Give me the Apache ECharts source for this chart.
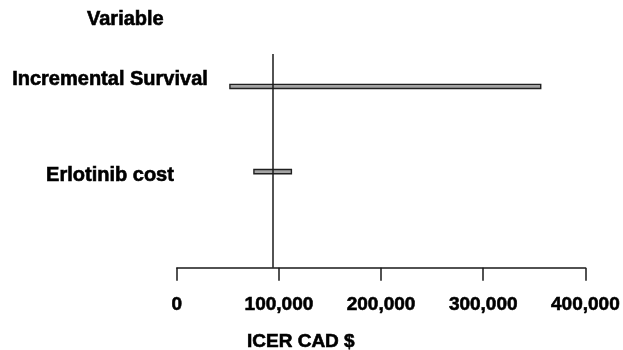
<!DOCTYPE html>
<html><head><meta charset="utf-8">
<script src="https://cdn.jsdelivr.net/npm/echarts@6/dist/echarts.min.js"></script>
<style>html,body{margin:0;padding:0;background:#fff}#c{width:623px;height:350px}</style>
</head><body><div id="c"></div>
<script>
const categories = ['Incremental Survival', 'Erlotinib cost'];
const lowValues = [52000, 75500];
const highValues = [356300, 112200];
const baseValue = 94000;
const tickValues = [0, 100000, 200000, 300000, 400000];
const tickLabels = ['0', '100,000', '200,000', '300,000', '400,000'];

const FONT = '"Liberation Sans", Arial, Helvetica, sans-serif';
const HEAVY = {fontFamily: FONT, fontWeight: 'bold', color: '#000', textBorderColor: '#000', textBorderWidth: 0.6};
const chart = echarts.init(document.getElementById('c'), null, {renderer: 'canvas'});

const data = categories.map((c, i) => [lowValues[i], highValues[i], i]);

chart.setOption({
  animation: false,
  backgroundColor: '#fff',
  title: [
    {text: 'Variable', left: 87, top: 9, padding: 0,
     textStyle: Object.assign({fontSize: 20}, HEAVY)},
    {text: 'ICER CAD $', left: 247, top: 332, padding: 0,
     textStyle: Object.assign({fontSize: 19}, HEAVY)}
  ],
  grid: [
    {left: 176.8, right: 35.5, top: 54, bottom: 82.3, containLabel: false},
    {left: 176.8, right: 35.5, top: 31, height: 192, containLabel: false}
  ],
  xAxis: [{
    type: 'value', gridIndex: 0, min: tickValues[0], max: tickValues[tickValues.length - 1],
    interval: tickValues[1] - tickValues[0],
    splitLine: {show: false},
    axisLine: {show: true, onZero: false, lineStyle: {color: '#1a1a1a', width: 1.5}},
    axisTick: {show: true, length: 13, lineStyle: {color: '#1a1a1a', width: 1.5}},
    axisLabel: Object.assign({
      margin: 28, fontSize: 19,
      formatter: v => { const k = tickValues.indexOf(v); return k >= 0 ? tickLabels[k] : ''; }
    }, HEAVY)
  }, {
    type: 'value', gridIndex: 1, min: 0, max: 1, show: false
  }],
  yAxis: [{
    type: 'value', gridIndex: 0, min: -0.381, max: 2.127, inverse: true, show: false
  }, {
    type: 'category', gridIndex: 1, data: categories, inverse: true, boundaryGap: true,
    axisLine: {show: false}, axisTick: {show: false}, splitLine: {show: false},
    axisLabel: Object.assign({show: true, margin: 66.8, align: 'center', fontSize: 20}, HEAVY)
  }],
  series: [{
    type: 'custom',
    xAxisIndex: 0, yAxisIndex: 0,
    clip: false,
    data: data,
    encode: {x: [0, 1], y: 2},
    renderItem: function (params, api) {
      const idx = api.value(2);
      const lo = api.coord([api.value(0), idx]);
      const hi = api.coord([api.value(1), idx]);
      const h = 4.2;
      return {type: 'rect', shape: {x: lo[0], y: lo[1] - h / 2, width: hi[0] - lo[0], height: h},
              style: {fill: '#a4a4a4', stroke: '#202020', lineWidth: 1.4}};
    },
    markLine: {
      silent: true, symbol: 'none', label: {show: false},
      lineStyle: {color: '#1a1a1a', width: 1.5, type: 'solid'},
      data: [{xAxis: baseValue}]
    },
    z: 2
  }]
});
</script>
</body></html>
